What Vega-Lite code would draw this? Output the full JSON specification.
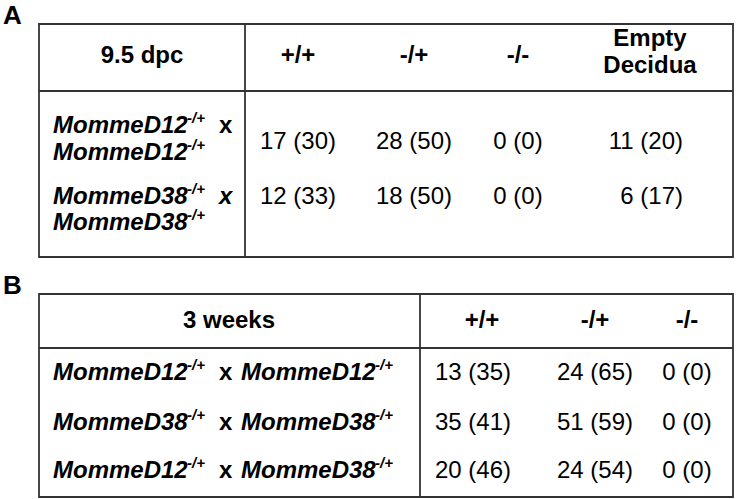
{
  "$schema": "https://vega.github.io/schema/vega-lite/v6.json",
  "autosize": {"type": "fit", "contains": "padding"},
  "width": 738,
  "height": 499,
  "padding": 0,
  "background": "white",
  "config": {"view": {"stroke": null}},
  "datasets": {
    "cells": [
      {"t": "A", "xi": 0, "yi": 0, "k": "panel"},
      {"t": "B", "xi": 0, "yi": 12, "k": "panel"},
      {"t": "9.5 dpc", "xi": 3, "yi": 2, "k": "head"},
      {"t": "+/+", "xi": 9, "yi": 2, "k": "head"},
      {"t": "-/+", "xi": 11, "yi": 2, "k": "head"},
      {"t": "-/-", "xi": 15, "yi": 2, "k": "head"},
      {"t": "Empty", "xi": 17, "yi": 1, "k": "head"},
      {"t": "Decidua", "xi": 17, "yi": 3, "k": "head"},
      {"t": "MommeD12", "xi": 2, "yi": 5, "k": "lab"},
      {"t": "-/+", "xi": 4, "yi": 5, "k": "sup"},
      {"t": "x", "xi": 5, "yi": 5, "k": "labX"},
      {"t": "MommeD12", "xi": 2, "yi": 7, "k": "lab"},
      {"t": "-/+", "xi": 4, "yi": 7, "k": "sup"},
      {"t": "MommeD38", "xi": 2, "yi": 9, "k": "lab"},
      {"t": "-/+", "xi": 4, "yi": 9, "k": "sup"},
      {"t": "x", "xi": 5, "yi": 9, "k": "lab"},
      {"t": "MommeD38", "xi": 2, "yi": 10, "k": "lab"},
      {"t": "-/+", "xi": 4, "yi": 10, "k": "sup"},
      {"t": "17 (30)", "xi": 9, "yi": 6, "k": "val"},
      {"t": "28 (50)", "xi": 11, "yi": 6, "k": "val"},
      {"t": "0 (0)", "xi": 15, "yi": 6, "k": "val"},
      {"t": "11 (20)", "xi": 18, "yi": 6, "k": "valR"},
      {"t": "12 (33)", "xi": 9, "yi": 8, "k": "val"},
      {"t": "18 (50)", "xi": 11, "yi": 8, "k": "val"},
      {"t": "0 (0)", "xi": 15, "yi": 8, "k": "val"},
      {"t": "6 (17)", "xi": 18, "yi": 8, "k": "valR"},
      {"t": "3 weeks", "xi": 6, "yi": 13, "k": "head"},
      {"t": "+/+", "xi": 14, "yi": 13, "k": "head"},
      {"t": "-/+", "xi": 16, "yi": 13, "k": "head"},
      {"t": "-/-", "xi": 19, "yi": 13, "k": "head"},
      {"t": "MommeD12", "xi": 2, "yi": 15, "k": "lab"},
      {"t": "-/+", "xi": 4, "yi": 15, "k": "sup"},
      {"t": "x", "xi": 5, "yi": 15, "k": "labX"},
      {"t": "MommeD12", "xi": 7, "yi": 15, "k": "lab"},
      {"t": "-/+", "xi": 10, "yi": 15, "k": "sup"},
      {"t": "MommeD38", "xi": 2, "yi": 16, "k": "lab"},
      {"t": "-/+", "xi": 4, "yi": 16, "k": "sup"},
      {"t": "x", "xi": 5, "yi": 16, "k": "labX"},
      {"t": "MommeD38", "xi": 7, "yi": 16, "k": "lab"},
      {"t": "-/+", "xi": 10, "yi": 16, "k": "sup"},
      {"t": "MommeD12", "xi": 2, "yi": 17, "k": "lab"},
      {"t": "-/+", "xi": 4, "yi": 17, "k": "sup"},
      {"t": "x", "xi": 5, "yi": 17, "k": "labX"},
      {"t": "MommeD38", "xi": 7, "yi": 17, "k": "lab"},
      {"t": "-/+", "xi": 10, "yi": 17, "k": "sup"},
      {"t": "13 (35)", "xi": 13, "yi": 15, "k": "val"},
      {"t": "24 (65)", "xi": 16, "yi": 15, "k": "val"},
      {"t": "0 (0)", "xi": 19, "yi": 15, "k": "val"},
      {"t": "35 (41)", "xi": 13, "yi": 16, "k": "val"},
      {"t": "51 (59)", "xi": 16, "yi": 16, "k": "val"},
      {"t": "0 (0)", "xi": 19, "yi": 16, "k": "val"},
      {"t": "20 (46)", "xi": 13, "yi": 17, "k": "val"},
      {"t": "24 (54)", "xi": 16, "yi": 17, "k": "val"},
      {"t": "0 (0)", "xi": 19, "yi": 17, "k": "val"}
    ],
    "boxes": [
      {"xi": 1, "xi2": 20, "yi": 0, "yi2": 11},
      {"xi": 1, "xi2": 20, "yi": 12, "yi2": 18}
    ],
    "lines": [
      {"xi": 1, "xi2": 20, "yi": 4, "yi2": 4},
      {"xi": 8, "xi2": 8, "yi": 0, "yi2": 11},
      {"xi": 1, "xi2": 20, "yi": 14, "yi2": 14},
      {"xi": 12, "xi2": 12, "yi": 12, "yi2": 18}
    ]
  },
  "encoding": {
    "x": {"field": "xi", "type": "quantitative", "axis": null,
      "scale": {"domain": [0,1,2,3,4,5,6,7,8,9,10,11,12,13,14,15,16,17,18,19,20],
        "range": [3,39,53,142,187,219,229,241,245,298,375,414,420,473,482,518,595,650,683,687,733],
        "nice": false, "zero": false}},
    "y": {"field": "yi", "type": "quantitative", "axis": null,
      "scale": {"domain": [0,1,2,3,4,5,6,7,8,9,10,11,12,13,14,15,16,17,18],
        "range": [24,46,63,73,91,133,149,160,204,204,230,257,294,328,348,380,430,478,497],
        "nice": false, "zero": false}}
  },
  "layer": [
    {"data": {"name": "boxes"}, "mark": {"type": "rect", "fill": "transparent", "stroke": "#333333", "strokeWidth": 1.8},
      "encoding": {"x2": {"field": "xi2"}, "y2": {"field": "yi2"}}},
    {"data": {"name": "lines"}, "mark": {"type": "rule", "color": "#333333", "strokeWidth": 1.8},
      "encoding": {"x2": {"field": "xi2"}, "y2": {"field": "yi2"}}},
    {"data": {"name": "cells"}, "transform": [{"filter": "datum.k === 'panel'"}],
      "mark": {"type": "text", "align": "left", "baseline": "alphabetic", "font": "Liberation Sans", "fontWeight": "bold", "fontSize": 26, "color": "black"},
      "encoding": {"text": {"field": "t"}}},
    {"data": {"name": "cells"}, "transform": [{"filter": "datum.k === 'head'"}],
      "mark": {"type": "text", "align": "center", "baseline": "alphabetic", "font": "Liberation Sans", "fontWeight": "bold", "fontSize": 24, "color": "black"},
      "encoding": {"text": {"field": "t"}}},
    {"data": {"name": "cells"}, "transform": [{"filter": "datum.k === 'val'"}],
      "mark": {"type": "text", "align": "center", "baseline": "alphabetic", "font": "Liberation Sans", "fontSize": 24, "color": "black"},
      "encoding": {"text": {"field": "t"}}},
    {"data": {"name": "cells"}, "transform": [{"filter": "datum.k === 'valR'"}],
      "mark": {"type": "text", "align": "right", "baseline": "alphabetic", "font": "Liberation Sans", "fontSize": 24, "color": "black"},
      "encoding": {"text": {"field": "t"}}},
    {"data": {"name": "cells"}, "transform": [{"filter": "datum.k === 'lab'"}],
      "mark": {"type": "text", "align": "left", "baseline": "alphabetic", "font": "Liberation Sans", "fontWeight": "bold", "fontStyle": "italic", "fontSize": 24, "color": "black"},
      "encoding": {"text": {"field": "t"}}},
    {"data": {"name": "cells"}, "transform": [{"filter": "datum.k === 'labX'"}],
      "mark": {"type": "text", "align": "left", "baseline": "alphabetic", "font": "Liberation Sans", "fontWeight": "bold", "fontSize": 24, "color": "black"},
      "encoding": {"text": {"field": "t"}}},
    {"data": {"name": "cells"}, "transform": [{"filter": "datum.k === 'sup'"}],
      "mark": {"type": "text", "align": "left", "baseline": "alphabetic", "dy": -10, "font": "Liberation Sans", "fontWeight": "bold", "fontStyle": "italic", "fontSize": 15, "color": "black"},
      "encoding": {"text": {"field": "t"}}}
  ]
}
